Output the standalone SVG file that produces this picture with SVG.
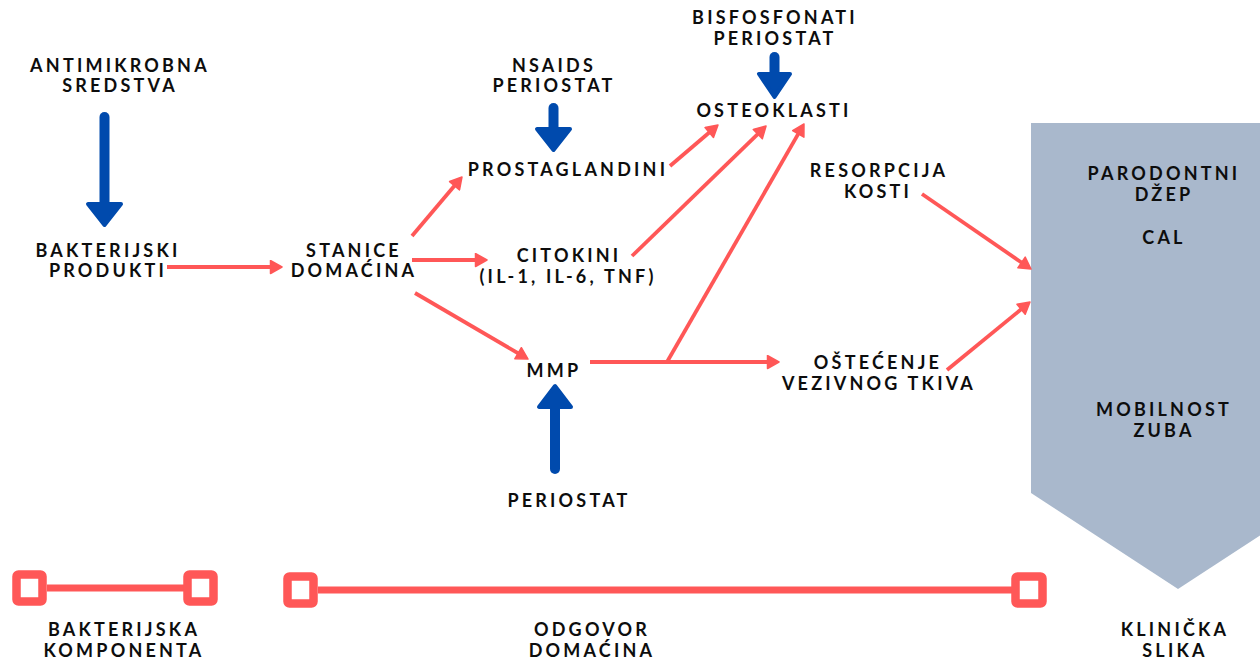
<svg xmlns="http://www.w3.org/2000/svg" width="1260" height="662" viewBox="0 0 1260 662">
<style>
  text { font-family: Lato, "Open Sans", "Liberation Sans", sans-serif; font-weight: 700; font-size: 18px; letter-spacing: 3.2px; fill: #0d0d0d; text-anchor: middle; }
  .red { stroke: #FF5757; stroke-width: 3.8; fill: none; stroke-linecap: butt; marker-end: url(#ah); }
  .bshaft { stroke: #004AAD; stroke-width: 10; stroke-linecap: round; fill: none; }
  .bhead { fill: #004AAD; stroke: #004AAD; stroke-width: 4; stroke-linejoin: round; }
  .sq { fill: #fff; stroke: #FF5757; stroke-width: 8.5; }
  .bar { stroke: #FF5757; stroke-width: 7; }
</style>
<defs>
  <marker id="ah" viewBox="0 0 14 15" markerWidth="14" markerHeight="15" refX="5" refY="7.5" orient="auto" markerUnits="userSpaceOnUse">
    <path d="M1.5,1 L13,7.5 L1.5,14 z" fill="#FF5757" stroke="#FF5757" stroke-width="1.5" stroke-linejoin="round"/>
  </marker>
</defs>
<rect width="1260" height="662" fill="#fff"/>

<g id="clinical-shape">
  <polygon points="1031,123 1325,123 1325,493 1178,589 1031,493" fill="#A9B8CC"/>
</g>

<g id="connectors">
  <line class="red" x1="167" y1="267" x2="274" y2="267"/>
  <line class="red" x1="412" y1="236" x2="456.8" y2="183.1"/>
  <line class="red" x1="412" y1="260" x2="479" y2="260"/>
  <line class="red" x1="415" y1="293" x2="521.1" y2="355"/>
  <line class="red" x1="670" y1="166" x2="711.9" y2="130.2"/>
  <line class="red" x1="632" y1="256" x2="760.3" y2="131.6"/>
  <line class="red" x1="590" y1="362" x2="771" y2="362"/>
  <line class="red" x1="667" y1="362" x2="800" y2="130.9"/>
  <line class="red" x1="922" y1="194" x2="1024.4" y2="264.5"/>
  <line class="red" x1="947" y1="370" x2="1023.8" y2="307.1"/>
</g>

<g id="inhibitors">
  <g id="arrow-antimikrobna">
    <line class="bshaft" x1="104.5" y1="117" x2="104.5" y2="205"/>
    <polygon class="bhead" points="88,204 121,204 104.5,225"/>
  </g>
  <g id="arrow-nsaids">
    <line class="bshaft" x1="553.5" y1="108" x2="553.5" y2="130"/>
    <polygon class="bhead" points="537,129 570,129 553.5,150"/>
  </g>
  <g id="arrow-bisfosfonati">
    <line class="bshaft" x1="774.5" y1="57" x2="774.5" y2="75"/>
    <polygon class="bhead" points="759,74 790,74 774.5,97"/>
  </g>
  <g id="arrow-periostat">
    <line class="bshaft" x1="555" y1="469" x2="555" y2="405"/>
    <polygon class="bhead" points="539,407 571,407 555,386"/>
  </g>
</g>

<g id="node-antimikrobna"><text x="120" y="72">ANTIMIKROBNA</text><text x="120" y="92">SREDSTVA</text></g>
<g id="node-bakterijski"><text x="108" y="257">BAKTERIJSKI</text><text x="108" y="277">PRODUKTI</text></g>
<g id="node-stanice"><text x="354" y="257">STANICE</text><text x="354" y="277">DOMAĆINA</text></g>
<g id="node-nsaids"><text x="554" y="72">NSAIDS</text><text x="554" y="92">PERIOSTAT</text></g>
<g id="node-prostaglandini"><text x="568" y="176">PROSTAGLANDINI</text></g>
<g id="node-bisfosfonati"><text x="775" y="24">BISFOSFONATI</text><text x="775" y="45">PERIOSTAT</text></g>
<g id="node-osteoklasti"><text x="774" y="117">OSTEOKLASTI</text></g>
<g id="node-citokini"><text x="569" y="262">CITOKINI</text><text x="568" y="283">(IL-1, IL-6, TNF)</text></g>
<g id="node-resorpcija"><text x="879" y="177">RESORPCIJA</text><text x="878" y="198">KOSTI</text></g>
<g id="node-mmp"><text x="554" y="377">MMP</text></g>
<g id="node-ostecenje"><text x="878" y="369">OŠTEĆENJE</text><text x="879" y="390">VEZIVNOG TKIVA</text></g>
<g id="node-periostat"><text x="569" y="507">PERIOSTAT</text></g>
<g id="node-klinicka-items">
  <text x="1164" y="180">PARODONTNI</text><text x="1164" y="201">DŽEP</text>
  <text x="1164" y="244">CAL</text>
  <text x="1164" y="416">MOBILNOST</text><text x="1164" y="437">ZUBA</text>
</g>

<g id="timeline-bakterijska">
  <line class="bar" x1="47" y1="588" x2="184" y2="588"/>
  <rect class="sq" x="16.5" y="574.5" width="26" height="27" rx="2"/>
  <rect class="sq" x="187.5" y="574.5" width="26" height="27" rx="2"/>
</g>
<g id="timeline-odgovor">
  <line class="bar" x1="318" y1="590" x2="1012" y2="590"/>
  <rect class="sq" x="287.5" y="576.5" width="26" height="27" rx="2"/>
  <rect class="sq" x="1015.5" y="576.5" width="27" height="27" rx="2"/>
</g>

<g id="label-bakterijska"><text x="124" y="636">BAKTERIJSKA</text><text x="124" y="657">KOMPONENTA</text></g>
<g id="label-odgovor"><text x="592" y="636">ODGOVOR</text><text x="592" y="657">DOMAĆINA</text></g>
<g id="label-klinicka"><text x="1175" y="636">KLINIČKA</text><text x="1175" y="657">SLIKA</text></g>
</svg>
